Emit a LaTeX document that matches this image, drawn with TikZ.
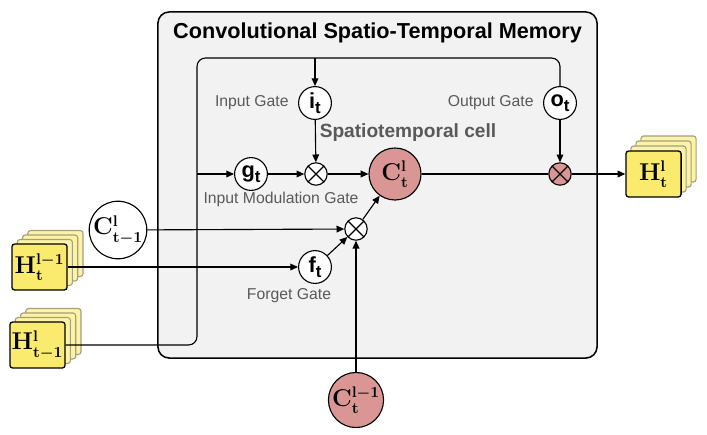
\documentclass[tikz,border=0pt]{standalone}
\usepackage{fontspec}
\setsansfont{Liberation Sans}
\usepackage{tikz}
\usetikzlibrary{calc}
\usetikzlibrary{arrows.meta}
\usetikzlibrary{positioning}

\definecolor{boxgray}{HTML}{F2F2F2}
\definecolor{cellpink}{HTML}{D99694}
\definecolor{mapyellow}{HTML}{FAEB6E}
\definecolor{labelgray}{HTML}{595959}

\newcommand{\gsub}[1]{#1\raisebox{-0.45ex}{\fontsize{12}{12}\selectfont t}}

\begin{document}
\begin{tikzpicture}[x=0.025cm, y=-0.025cm, line width=0.8pt,
    flow/.style={-{Triangle[length=5.5pt,width=4.8pt]}},
    gate/.style={circle, draw, fill=white, minimum size=0.82cm, inner sep=0pt,
      font=\sffamily\bfseries\fontsize{15.5}{15.5}\selectfont},
    mult/.style={circle, draw, fill=white, minimum size=0.56cm, inner sep=0pt,
      path picture={\draw (path picture bounding box.north west) -- (path picture bounding box.south east)
        (path picture bounding box.north east) -- (path picture bounding box.south west);}},
    cell/.style={circle, draw, fill=white, minimum size=1.3cm, inner sep=0pt,
      font=\fontsize{16}{16}\selectfont\boldmath},
    mapfront/.style={rectangle, draw, rounded corners=2pt, fill=mapyellow, line width=0.9pt,
      minimum width=1.38cm, minimum height=1.15cm, inner sep=0pt,
      font=\fontsize{16}{16}\selectfont\boldmath},
    mapback/.style={rectangle, draw=gray!70!mapyellow, rounded corners=2pt, fill=mapyellow!60!white,
      minimum width=1.38cm, minimum height=1.15cm, inner sep=0pt},
    lbl/.style={text=labelgray, font=\sffamily\fontsize{11.2}{13}\selectfont}]
  \useasboundingbox (0,0) rectangle (707,434);

  % memory block
  \node[rectangle, draw, rounded corners=8pt, fill=boxgray, line width=1.1pt,
    minimum width=10.975cm, minimum height=8.65cm] (mem) at (377.5,185) {};
  \node[font=\sffamily\bfseries\fontsize{15.4}{18}\selectfont] (title) at (377.5,33)
    {Convolutional Spatio-Temporal Memory};

  % gates
  \node[gate] (it) at (315,103) {\gsub{i}};
  \node[gate] (ot) at (560,103) {\gsub{o}};
  \node[gate] (gt) at (251,174) {\gsub{g}};
  \node[gate] (ft) at (315,267) {\gsub{f}};
  \node[lbl, left=3pt of it] (itlbl) {Input Gate};
  \node[lbl, left=3pt of ot] (otlbl) {Output Gate};
  \node[lbl] (gtlbl) at (281,199) {Input Modulation Gate};
  \node[lbl] (ftlbl) at (289,296) {Forget Gate};
  \node[text=labelgray, font=\sffamily\bfseries\fontsize{13.6}{16}\selectfont] (celllbl) at (408,133)
    {Spatiotemporal cell};

  % products and cells
  \node[mult] (mulg) at (316,174) {};
  \node[mult] (mulf) at (356,229) {};
  \node[mult, fill=cellpink] (mulo) at (560,174) {};
  \node[cell, fill=cellpink] (ct) at (395,174) {$\mathbf{C}_{\mathbf{t}}^{\mathbf{l}}$};
  \node[cell] (ctprev) at (118,230) {$\mathbf{C}_{\mathbf{t}-\mathbf{1}}^{\mathbf{l}}$};
  \node[cell, fill=cellpink] (ctlow) at (356,400) {$\mathbf{C}_{\mathbf{t}}^{\mathbf{l}-\mathbf{1}}$};

  % feature map stacks
  \coordinate (hprevc) at (39.5,267);
  \coordinate (hpastc) at (37.5,345);
  \coordinate (houtc) at (653.5,174);
  \foreach \k in {3,2,1} {
    \node[mapback] (hprev\k) at ($(hprevc)+(\k*5.3,-\k*4.5)$) {};
    \node[mapback] (hpast\k) at ($(hpastc)+(\k*5.3,-\k*4.5)$) {};
    \node[mapback] (hout\k) at ($(houtc)+(\k*5,-\k*5)$) {};
  }
  \node[mapfront] (hprev) at (hprevc) {$\mathbf{H}_{\mathbf{t}}^{\mathbf{l}-\mathbf{1}}$};
  \node[mapfront] (hpast) at (hpastc) {$\mathbf{H}_{\mathbf{t}-\mathbf{1}}^{\mathbf{l}}$};
  \node[mapfront] (hout) at (houtc) {$\mathbf{H}_{\mathbf{t}}^{\mathbf{l}}$};

  % hidden state loop
  \coordinate (loopbl) at (197,345);
  \coordinate (looptl) at (197,58);
  \coordinate (looptr) at (560,58);
  \draw[rounded corners=6pt] (hpast.east) -- (loopbl) -- (looptl) -- (looptr) -- (ot.north);
  \draw[flow] (it |- looptl) -- (it.north);
  \draw[flow] (looptl |- gt) -- (gt.west);

  % connections
  \draw[flow] (gt) -- (mulg);
  \draw[flow] (it) -- (mulg);
  \draw[flow] (mulg) -- (ct);
  \draw[flow] (ctprev) -- (mulf);
  \draw[flow] (hprev.east) -- (ft.west);
  \draw[flow] (ft) -- (mulf);
  \draw[flow] (ctlow) -- (mulf);
  \draw[flow] (mulf) -- (ct);
  \draw (ct) -- (mulo);
  \draw[flow] (ot) -- (mulo);
  \draw[flow] (mulo) -- (hout);
\end{tikzpicture}
\end{document}
